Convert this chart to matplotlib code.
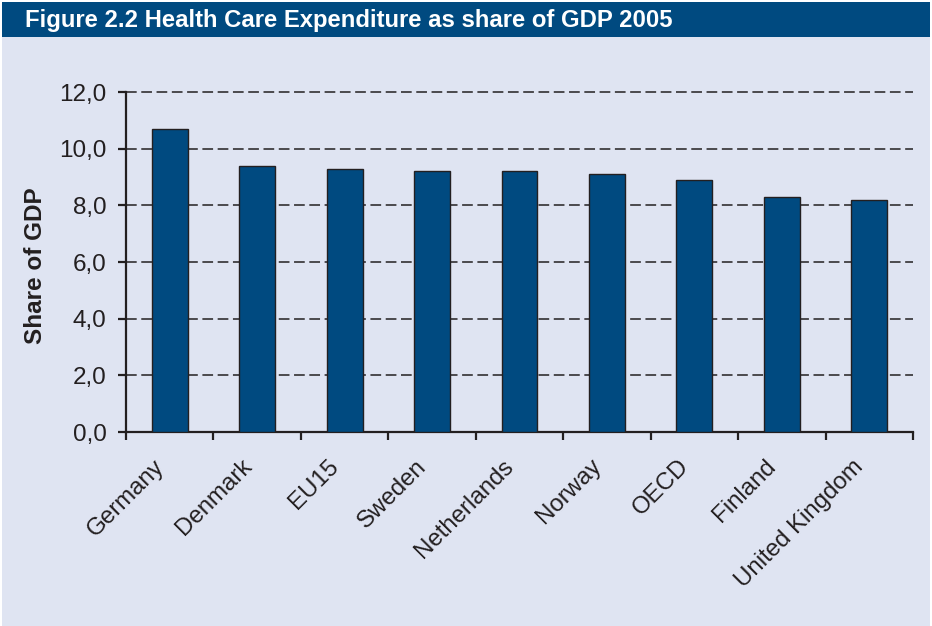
import matplotlib
matplotlib.use("Agg")
import matplotlib.pyplot as plt
from matplotlib.patches import Rectangle
from matplotlib.transforms import ScaledTranslation, blended_transform_factory
import numpy as np

categories = ["Germany", "Denmark", "EU15", "Sweden", "Netherlands", "Norway", "OECD", "Finland", "United Kingdom"]
values = [10.7, 9.4, 9.3, 9.2, 9.2, 9.1, 8.9, 8.3, 8.2]
yticks = [0, 2, 4, 6, 8, 10, 12]
ytick_labels = ["0,0", "2,0", "4,0", "6,0", "8,0", "10,0", "12,0"]
title = "Figure 2.2 Health Care Expenditure as share of GDP 2005"
ylabel = "Share of GDP"

plt.rcParams['font.family'] = ['Liberation Sans', 'DejaVu Sans']

W, H = 932, 626
fig = plt.figure(figsize=(W/100, H/100), dpi=100)
bg = "#dfe4f2"
navy = "#004a80"
ink = "#231f20"
fig.patch.set_facecolor("white")
fig.add_artist(Rectangle((2/W, 0), (W-4)/W, (H-2)/H, transform=fig.transFigure, facecolor=bg, edgecolor="none", zorder=0))
fig.add_artist(Rectangle((2/W, (H-37)/H), (W-4)/W, 35/H, transform=fig.transFigure, facecolor=navy, edgecolor="none", zorder=1))
fig.text(25/W, (H-27.5)/H, title, color="white", fontsize=17.2, fontweight="bold", va="baseline", ha="left", zorder=2)

left, right, top, bottom = 126, 913, 92, 432
ax = fig.add_axes([left/W, (H-bottom)/H, (right-left)/W, (bottom-top)/H])
ax.set_facecolor("none")
x = np.arange(len(categories))
ax.bar(x, values, width=0.41, color=navy, edgecolor=ink, linewidth=1.0, zorder=3)
ax.set_xlim(-0.5, len(categories)-0.5)
ax.set_ylim(0, 12)
ax.set_yticks(yticks)
ax.set_yticklabels(ytick_labels, fontsize=17.5, color=ink)
for yv in yticks[1:]:
    ax.axhline(yv, color=ink, linestyle=(0, (7, 3)), linewidth=1.1, zorder=1, clip_on=False)
ax.set_xticks(np.arange(len(categories)+1) - 0.5)
ax.set_xticklabels([])
trans = blended_transform_factory(ax.transData, ax.transAxes) + ScaledTranslation(-9/100, -31/100, fig.dpi_scale_trans)
for xi, name in zip(x, categories):
    ax.text(xi, 0, name, transform=trans, rotation=45, ha="right", va="center",
            rotation_mode="anchor", fontsize=17.3, color=ink, clip_on=False)
ax.tick_params(axis="x", which="major", length=6, width=1.6, direction="out", color=ink)
ax.tick_params(axis="y", length=6, width=1.6, direction="out", color=ink, pad=8)
for s in ["top", "right"]:
    ax.spines[s].set_visible(False)
for s in ["left", "bottom"]:
    ax.spines[s].set_linewidth(1.6)
    ax.spines[s].set_color(ink)
ax.set_ylabel(ylabel, fontsize=17.5, fontweight="bold", color=ink)
ax.yaxis.set_label_coords(-0.1, 0.49)
fig.savefig("out.png", dpi=100, facecolor=fig.get_facecolor())
